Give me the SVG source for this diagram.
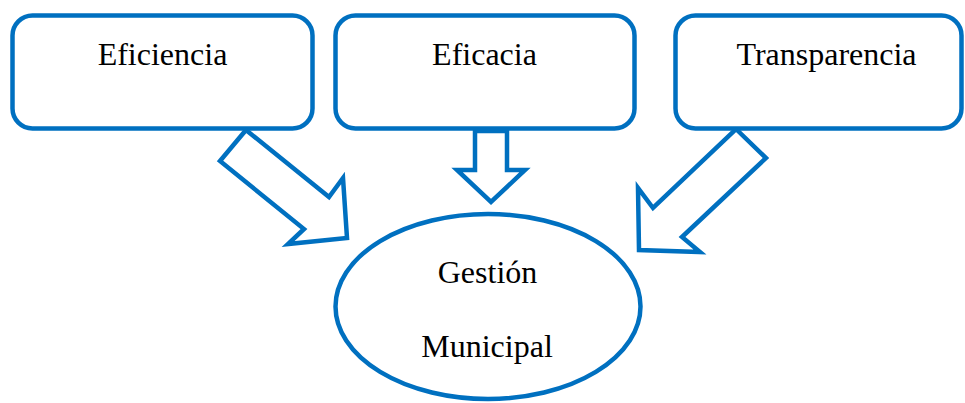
<svg xmlns="http://www.w3.org/2000/svg" width="965" height="403" viewBox="0 0 965 403">
<style>
.shape{fill:#fff;stroke:#0070C0;stroke-width:4.5;stroke-linejoin:miter}
.arrow{fill:#fff;stroke:#0070C0;stroke-width:4.5;stroke-linejoin:miter}
.lbl{font-family:"Liberation Serif","Times New Roman",serif;font-size:32px;fill:#000;text-anchor:middle}
</style>
<rect width="965" height="403" fill="#fff"/>
<g id="connectors">
<polygon class="arrow" points="246,130 329,197 343,178 347,238 288,244 304,229 220,161"/>
<polygon class="arrow" points="475,131 507,131 507,170 525,170 491,202 457,170 475,170"/>
<polygon class="arrow" points="736,129 766,158 682,237 700,252 639,250 638,188 653,208"/>
</g>
<g id="node-eficiencia">
<rect class="shape" x="12.5" y="15.5" width="300" height="113" rx="20"/>
<text class="lbl" x="162.5" y="65">Eficiencia</text>
</g>
<g id="node-eficacia">
<rect class="shape" x="335.5" y="15.5" width="299" height="113" rx="20"/>
<text class="lbl" x="484.5" y="65">Eficacia</text>
</g>
<g id="node-transparencia">
<rect class="shape" x="675.5" y="15.5" width="286" height="113" rx="20"/>
<text class="lbl" x="826.5" y="65">Transparencia</text>
</g>
<g id="node-gestion">
<ellipse class="shape" cx="488" cy="306.5" rx="152.5" ry="92.5"/>
<text class="lbl" x="487.5" y="283" font-family="Liberation Serif, serif">Gestión</text>
<text class="lbl" x="487" y="357" font-family="Liberation Serif, serif">Municipal</text>
</g>
</svg>
